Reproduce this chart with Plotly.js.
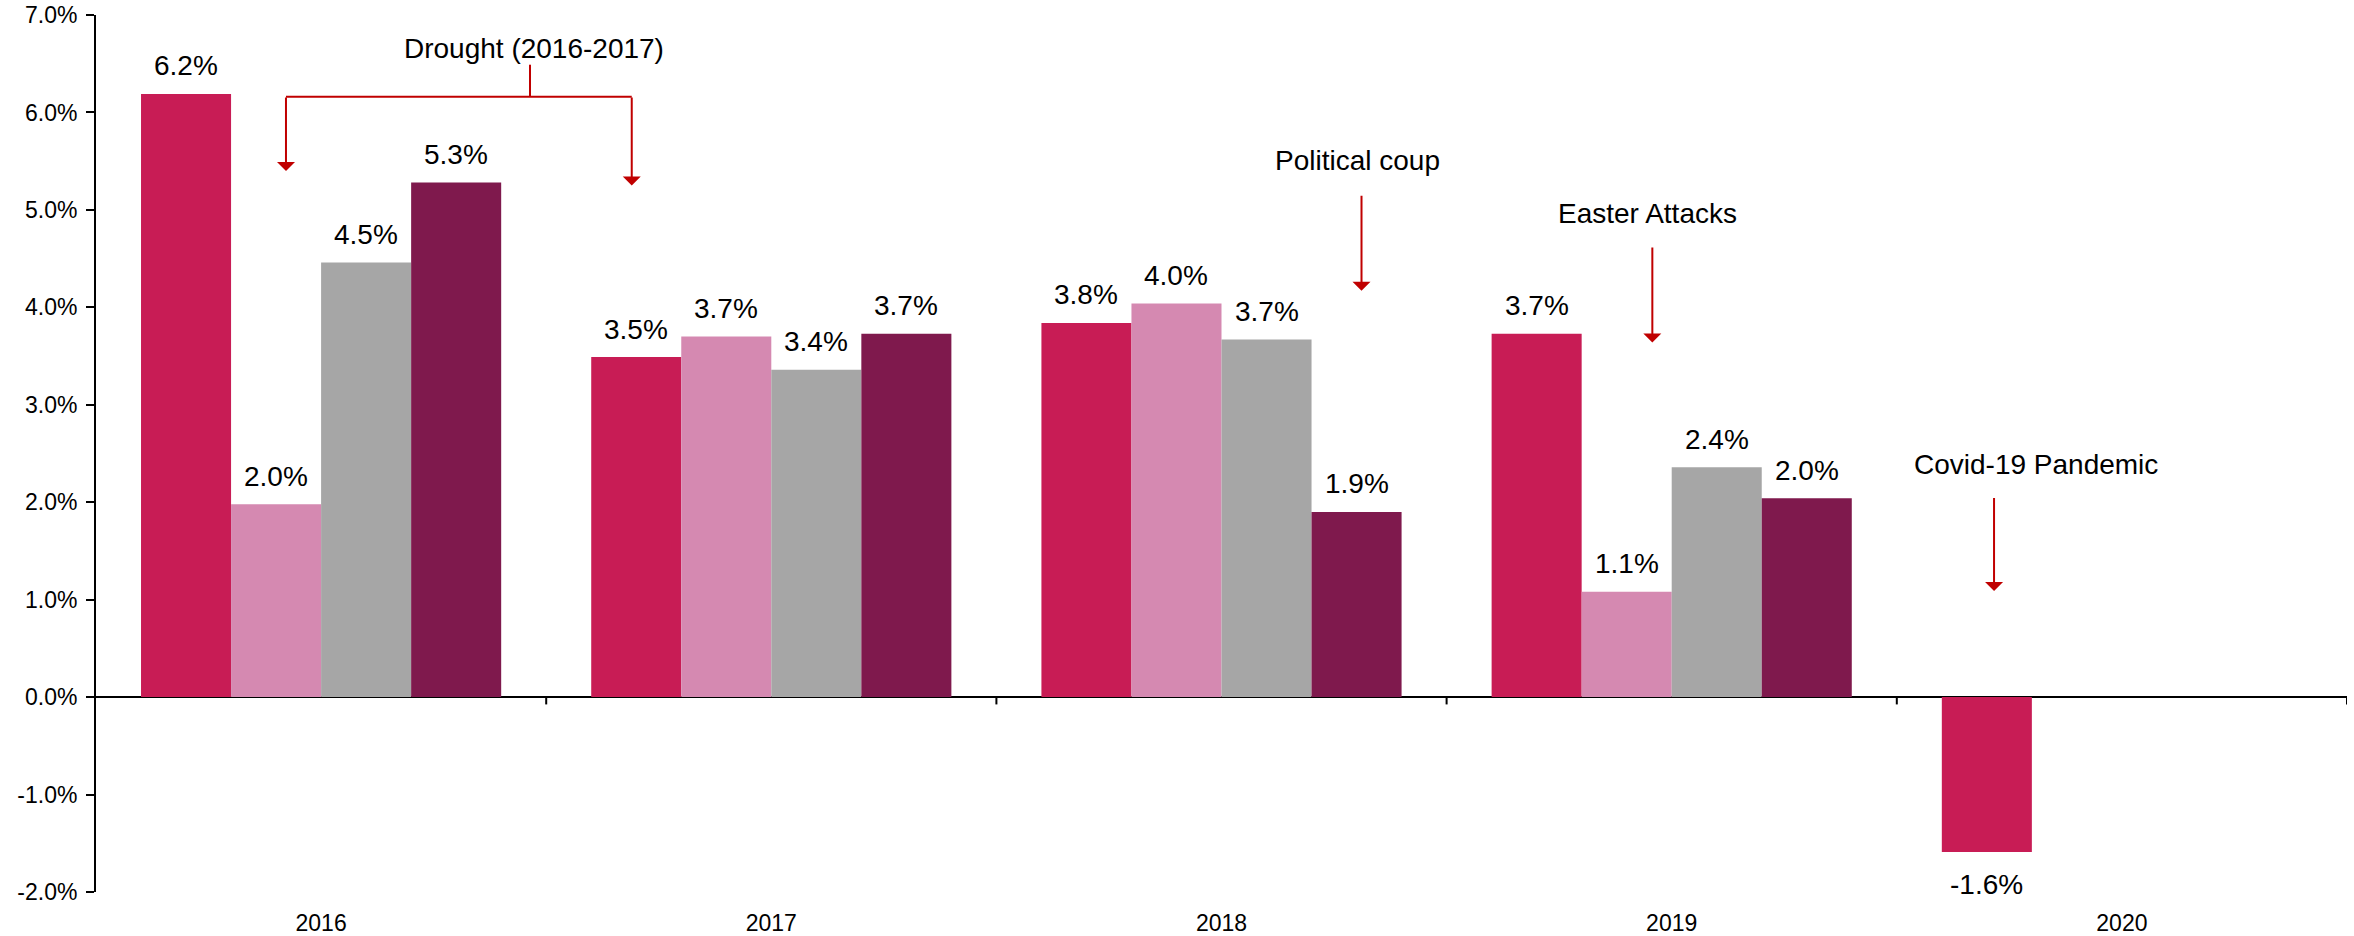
<!DOCTYPE html>
<html>
<head>
<meta charset="utf-8">
<script src="https://cdn.plot.ly/plotly-3.0.1.min.js"></script>
<style>
html,body{margin:0;padding:0;background:#fff;}
#chart{width:2354px;height:936px;}
</style>
</head>
<body>
<div id="chart"></div>
<script>
// Categories (years)
const years = ["2016", "2017", "2018", "2019", "2020"];
// Quarterly GDP growth (%)
const q1 = [6.19, 3.49, 3.84, 3.73, -1.59];
const q2 = [1.98, 3.70, 4.04, 1.08, null];
const q3 = [4.46, 3.36, 3.67, 2.36, null];
const q4 = [5.28, 3.73, 1.90, 2.04, null];
const seriesNames = ["Q1", "Q2", "Q3", "Q4"];
const seriesColors = ["#C81C55", "#D589B1", "#A6A6A6", "#7F194D"];
const yTicks = [-2, -1, 0, 1, 2, 3, 4, 5, 6, 7];

const FONT = "Liberation Sans, Arial, sans-serif";
const W = 2354, H = 936;
const M = {l: 96, r: 7, t: 15, b: 44, pad: 0};
const BARGAP = 0.2;

const series = [q1, q2, q3, q4];
const traces = series.map((vals, i) => ({
  type: "bar",
  name: seriesNames[i],
  x: years,
  y: vals,
  marker: {color: seriesColors[i]},
  hoverinfo: "skip"
}));

// value labels placed as annotations on each bar (offset from the bar end)
const plotW = W - M.l - M.r;
const barPx = plotW / years.length * (1 - BARGAP) / series.length;
const valueLabels = [];
series.forEach((vals, i) => {
  vals.forEach((v, j) => {
    if (v === null) return;
    valueLabels.push({
      x: j, y: v, xref: "x", yref: "y",
      xshift: (i - (series.length - 1) / 2) * barPx,
      yshift: v >= 0 ? 28 : -32,
      text: v.toFixed(1) + "%",
      showarrow: false,
      xanchor: "center", yanchor: "middle",
      font: {family: FONT, size: 28, color: "#000"}
    });
  });
});

const red = "#C00000";
const shapes = [];
// category boundary ticks on the zero line
for (let k = 0; k < years.length; k++) {
  shapes.push({type: "line", xref: "x", yref: "y", x0: k + 0.5, x1: k + 0.5, y0: 0, y1: -0.075,
    line: {color: "#000", width: 2}});
}
// drought bracket
shapes.push({type: "line", xref: "x", yref: "y", x0: 0.464, x1: 0.464, y0: 6.49, y1: 6.16, line: {color: red, width: 2}});
shapes.push({type: "line", xref: "x", yref: "y", x0: -0.078, x1: 0.69, y0: 6.16, y1: 6.16, line: {color: red, width: 2}});

function arrow(x, yTail, yTip) {
  return {x: x, y: yTip, ax: x, ay: yTail, xref: "x", yref: "y", axref: "x", ayref: "y",
    text: "", showarrow: true, arrowhead: 1, arrowsize: 1.5, arrowwidth: 2, arrowcolor: red, standoff: 0, startstandoff: 0};
}
function label(x, y, t) {
  return {x: x, y: y, xref: "x", yref: "y", text: t, showarrow: false,
    font: {family: FONT, size: 28, color: "#000"}, xanchor: "center", yanchor: "middle"};
}

const annotations = valueLabels.concat([
  label(0.472, 6.66, "Drought (2016-2017)"),
  arrow(-0.078, 6.17, 5.40),
  arrow(0.69, 6.17, 5.25),
  label(2.302, 5.51, "Political coup"),
  arrow(2.311, 5.16, 4.17),
  label(2.946, 4.96, "Easter Attacks"),
  arrow(2.957, 4.63, 3.64),
  label(3.81, 2.39, "Covid-19 Pandemic"),
  arrow(3.716, 2.06, 1.09)
]);

const layout = {
  width: W,
  height: H,
  margin: M,
  paper_bgcolor: "#fff",
  plot_bgcolor: "#fff",
  showlegend: false,
  barmode: "group",
  bargap: BARGAP,
  bargroupgap: 0,
  font: {family: FONT, color: "#000"},
  xaxis: {
    type: "category",
    categoryarray: years,
    range: [-0.5, years.length - 0.5],
    autorange: false,
    showline: false,
    showgrid: false,
    zeroline: false,
    ticks: "outside",
    ticklen: 10,
    tickcolor: "rgba(0,0,0,0)",
    tickfont: {family: FONT, size: 23, color: "#000"},
    fixedrange: true
  },
  yaxis: {
    range: [-2, 7],
    autorange: false,
    tickvals: yTicks,
    ticktext: yTicks.map(v => v.toFixed(1) + "%"),
    showline: true,
    linecolor: "#000",
    linewidth: 2,
    ticks: "outside",
    ticklen: 8,
    tickwidth: 2,
    tickcolor: "#000",
    ticklabelstandoff: 4,
    showgrid: false,
    zeroline: true,
    zerolinecolor: "#000",
    zerolinewidth: 2,
    tickfont: {family: FONT, size: 23, color: "#000"},
    fixedrange: true
  },
  shapes: shapes,
  annotations: annotations
};

Plotly.newPlot("chart", traces, layout, {displayModeBar: false, staticPlot: true});
</script>
</body>
</html>
